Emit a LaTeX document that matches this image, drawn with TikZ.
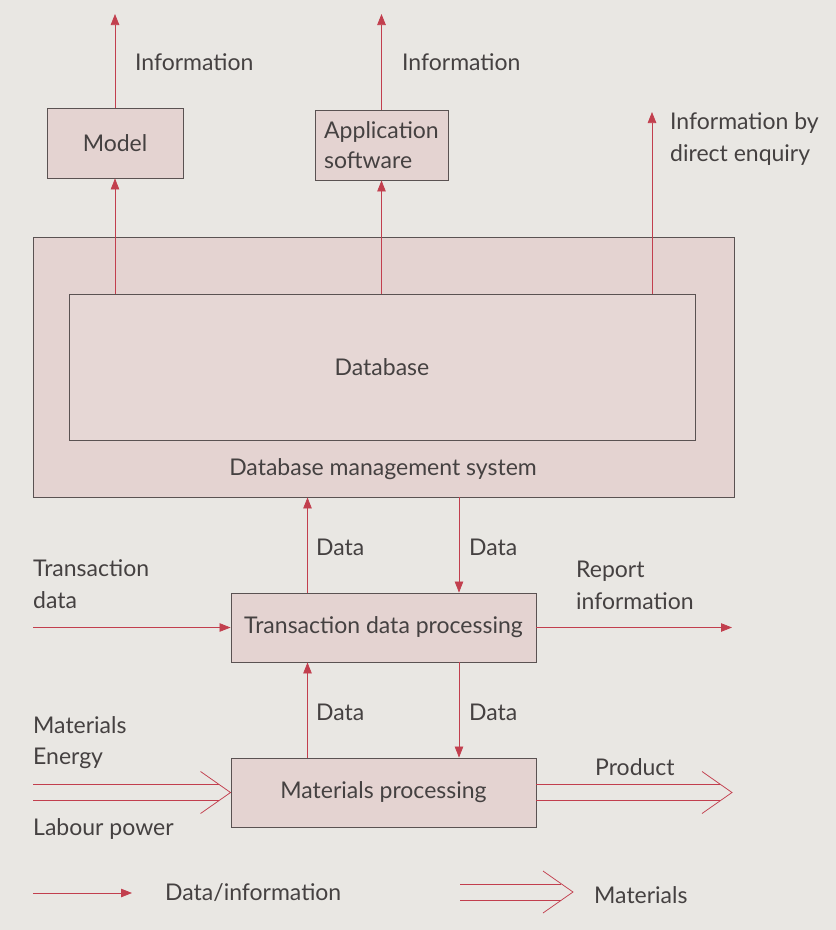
\documentclass[tikz,border=0pt]{standalone}
\usepackage{fontspec}
\setmainfont{Lato}
\usetikzlibrary{arrows.meta,calc}
\definecolor{bg}{HTML}{E9E7E3}
\definecolor{boxfill}{HTML}{E4D3D1}
\definecolor{dbfill}{HTML}{E6D7D5}
\definecolor{arr}{HTML}{C23F4E}
\definecolor{txt}{HTML}{454141}
\definecolor{edge}{HTML}{5A5252}
\begin{document}
\begin{tikzpicture}[x=1pt,y=-1pt,
  font=\fontsize{23}{32}\selectfont, text=txt,
  box/.style={draw=edge, line width=0.9pt, fill=boxfill, inner sep=0pt},
  lbl/.style={anchor=west, inner sep=0pt, align=left},
  flow/.style={draw=arr, line width=0.75pt, -{Triangle[length=11pt,width=8.5pt]}},
  mat/.style={draw=arr, line width=0.75pt}
]
\fill[bg] (0,0) rectangle (836,930);
\useasboundingbox (0,0) rectangle (836,930);

% boxes
\node[box, minimum width=701pt, minimum height=260pt] (dbms) at (383.5,367) {};
\node[box, fill=dbfill, minimum width=626pt, minimum height=146pt] (db) at (382,367) {Database};
\node[inner sep=0pt] (dbmslbl) at (383,469) {Database management system};
\node[box, minimum width=136pt, minimum height=70pt] (model) at (115,143) {Model};
\node[box, minimum width=133pt, minimum height=70pt, align=left, font=\fontsize{23}{30}\selectfont] (app) at (381.5,145) {Application\\software};
\node[box, minimum width=305pt, minimum height=69pt] (tdp) at (383.5,627.5) {Transaction data processing};
\node[box, minimum width=305pt, minimum height=69pt] (mp) at (383.5,792.5) {Materials processing};

% free ends
\coordinate (modeltop) at (115,14);
\coordinate (apptop) at (381.5,14);
\coordinate (enq) at (652,112);
\coordinate (tin) at (33,627.5);
\coordinate (rout) at (732,627.5);

% information arrows
\draw[flow] (model.north) -- (modeltop);
\draw[flow] (app.north) -- (apptop);
\draw[flow] (db.north -| model.south) -- (model.south);
\draw[flow] (db.north -| app.south) -- (app.south);
\draw[flow] (db.north -| enq) -- (enq);

\node[lbl] (info1) at (135,62) {Information};
\node[lbl] (info2) at (402,62) {Information};
\node[lbl] (info3) at (670,139) {Information by\\direct enquiry};

% data arrows between dbms and tdp
\draw[flow] ([xshift=-76pt]tdp.north) -- ([xshift=-76pt]tdp.north |- dbms.south);
\draw[flow] ([xshift=75.5pt]tdp.north |- dbms.south) -- ([xshift=75.5pt]tdp.north);
\node[lbl] (d1) at (316,547) {Data};
\node[lbl] (d2) at (469,547) {Data};

% data arrows between tdp and mp
\draw[flow] ([xshift=-76pt]mp.north) -- ([xshift=-76pt]mp.north |- tdp.south);
\draw[flow] ([xshift=75.5pt]mp.north |- tdp.south) -- ([xshift=75.5pt]mp.north);
\node[lbl] (d3) at (316,712) {Data};
\node[lbl] (d4) at (469,712) {Data};

% transaction in / report out
\draw[flow] (tin) -- (tdp.west);
\draw[flow] (tdp.east) -- (rout);
\node[lbl] (tdlbl) at (33,584.5) {Transaction\\data};
\node[lbl] (replbl) at (576,585.5) {Report\\information};

% materials in
\coordinate (minstart) at (33,792.5);
\draw[mat] ($(minstart)+(0,-8)$) -- ($(mp.west)+(-12,-8)$);
\draw[mat] ($(minstart)+(0,8)$) -- ($(mp.west)+(-12,8)$);
\draw[mat] ($(mp.west)+(-30,-21)$) -- (mp.west) -- ($(mp.west)+(-30,21)$);
\node[lbl] (matlbl) at (33,725) {Materials};
\node[lbl] (enlbl) at (33,758) {Energy};
\node[lbl] (lablbl) at (33,829) {Labour power};

% product out
\coordinate (pend) at (732,792.5);
\draw[mat] ($(mp.east)+(0,-8)$) -- ($(pend)+(-12,-8)$);
\draw[mat] ($(mp.east)+(0,8)$) -- ($(pend)+(-12,8)$);
\draw[mat] ($(pend)+(-30,-21)$) -- (pend) -- ($(pend)+(-30,21)$);
\node[lbl] (prodlbl) at (595,767) {Product};

% legend
\coordinate (l1a) at (33,893);
\coordinate (l1b) at (132,893);
\draw[flow] (l1a) -- (l1b);
\node[lbl] (leg1) at (165,893) {Data/information};
\coordinate (l2a) at (460,892);
\coordinate (l2b) at (573,892);
\draw[mat] ($(l2a)+(0,-8)$) -- ($(l2b)+(-12,-8)$);
\draw[mat] ($(l2a)+(0,8)$) -- ($(l2b)+(-12,8)$);
\draw[mat] ($(l2b)+(-30,-21)$) -- (l2b) -- ($(l2b)+(-30,21)$);
\node[lbl] (leg2) at (594,895) {Materials};
\end{tikzpicture}
\end{document}
